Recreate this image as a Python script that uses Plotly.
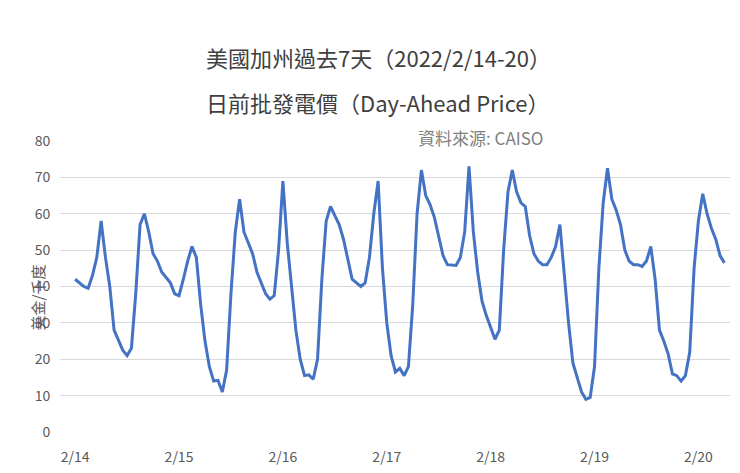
import plotly.graph_objs as go

# hourly day-ahead price, 2/14 00:00 onward (USD/MWh)
prices = [
    42, 41, 40, 39.5, 43, 48, 58, 48, 40, 28, 25, 22.5, 21, 23, 38, 57, 60, 55, 49, 47, 44, 42.5, 41, 38,
    37.5, 42, 47, 51, 48, 35, 25, 18, 14, 14.2, 11, 17, 38, 55, 64, 55, 52, 49, 44, 41, 38, 36.5, 37.5, 50,
    69, 52, 40, 28, 20, 15.5, 15.7, 14.5, 20, 42, 58, 62, 59.5, 57, 53, 47, 42, 41, 40, 41, 48, 60,
    69, 45, 30, 21, 16.5, 17.5, 15.5, 18, 35, 60, 72, 65, 62.5, 59, 54, 48.5, 46, 46, 45.8, 48, 55, 73,
    55, 44, 36, 32, 29, 25.5, 28, 50, 66, 72, 66, 63, 62, 54, 49, 47, 46, 46, 48, 51, 57, 43,
    30, 19, 15, 11, 9, 9.5, 18, 45, 63, 72.5, 64, 61, 57, 50, 47, 46, 46, 45.5, 47, 51, 42, 28,
    25, 21.5, 16, 15.5, 14, 15.5, 22, 45, 58, 65.5, 60, 56, 53, 48.5, 46.5,
]
hours = list(range(len(prices)))
day_labels = ['2/14', '2/15', '2/16', '2/17', '2/18', '2/19', '2/20']
day_ticks = [i * 24 for i in range(len(day_labels))]

font = 'Noto Sans CJK TC'
fig = go.Figure(go.Scatter(x=hours, y=prices, mode='lines',
                           line=dict(color='#4472C4', width=3)))

# header text positions in page pixels -> paper coords (plot area 52..722 x 133..424)
def px(x):
    return (x - 52) / 670

def py(y):
    return (424 - y) / 291

fig.update_layout(
    width=740, height=473, plot_bgcolor='white', paper_bgcolor='white',
    margin=dict(l=52, r=18, t=133, b=49, autoexpand=False),
    showlegend=False,
    font=dict(family=font, color='#595959', size=14),
    annotations=[
        dict(text='美國加州過去7天（2022/2/14-20）', x=px(370), y=py(31), xref='paper', yref='paper',
             showarrow=False, font=dict(size=22, color='#404040')),
        dict(text='日前批發電價（Day-Ahead Price）', x=px(370), y=py(76), xref='paper', yref='paper',
             showarrow=False, font=dict(size=22, color='#404040')),
        dict(text='資料來源: CAISO', x=px(537), y=py(115), xref='paper', yref='paper',
             showarrow=False, font=dict(size=17, color='#7f7f7f')),
        dict(text='美金/千度', x=px(16), y=py(290), xref='paper', yref='paper', textangle=-90,
             showarrow=False, font=dict(size=15, color='#595959')),
    ],
)
fig.update_xaxes(range=[-3.5, 151.3], tickvals=day_ticks, ticktext=day_labels,
                 showgrid=False, showline=False, zeroline=False, automargin=False,
                 ticks='outside', ticklen=12, tickcolor='white')
fig.update_yaxes(range=[0, 80], dtick=10, gridcolor='#d9d9d9', zeroline=False,
                 automargin=False, ticks='outside', ticklen=6, tickcolor='white')

fig.write_html('out.html')
